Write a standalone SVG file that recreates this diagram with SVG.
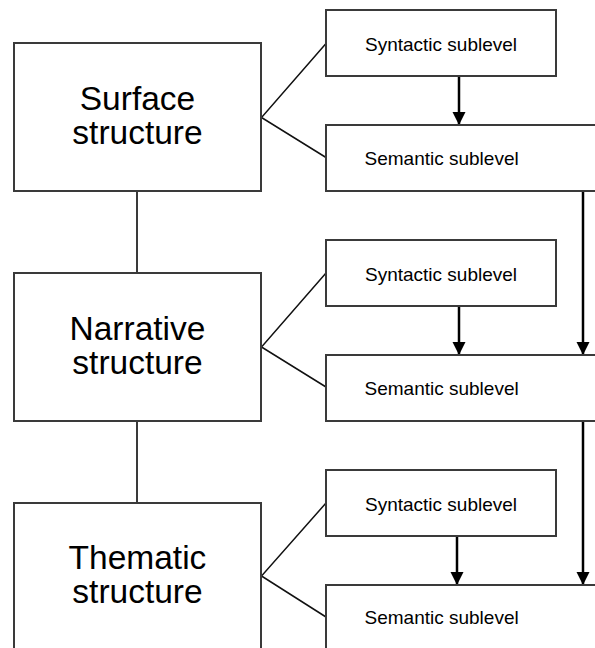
<svg xmlns="http://www.w3.org/2000/svg" width="595" height="648" viewBox="0 0 595 648">
<style>
.box{fill:#fff;stroke:#3a3a3a;stroke-width:2}
.big{font-family:"Liberation Sans",Arial,sans-serif;font-size:33.5px;fill:#000;text-anchor:middle}
.small{font-family:"Liberation Sans",Arial,sans-serif;font-size:19px;fill:#000}
.link{stroke:#111;stroke-width:1.5;fill:none}
.vlink{stroke:#3a3a3a;stroke-width:2;fill:none}
.arrow{stroke:#000;stroke-width:2.5;fill:none;marker-end:url(#ah)}
</style>
<defs>
<marker id="ah" markerUnits="userSpaceOnUse" markerWidth="13" markerHeight="14" refX="13" refY="6.5" orient="auto" viewBox="0 0 13 13">
<path d="M0,0 L13,6.5 L0,13 Z" fill="#000"/>
</marker>
</defs>
<rect width="595" height="648" fill="#fff"/>
<g id="connectors">
<line class="vlink" x1="137" y1="191" x2="137" y2="273"/>
<line class="vlink" x1="137" y1="421" x2="137" y2="503"/>
<polyline class="link" points="326,43.5 261.5,117.5 326,157.5"/>
<polyline class="link" points="326,273 261.5,347 326,387"/>
<polyline class="link" points="326,503 261.5,576 326,617"/>
<line class="arrow" x1="459" y1="76" x2="459" y2="125"/>
<line class="arrow" x1="459" y1="306" x2="459" y2="355"/>
<line class="arrow" x1="457" y1="536" x2="457" y2="585"/>
<line class="arrow" x1="583" y1="191" x2="583" y2="355"/>
<line class="arrow" x1="583" y1="421" x2="583" y2="585"/>
</g>
<g id="surface">
<rect class="box" x="14" y="43" width="247" height="148"/>
<text class="big" x="137.5" y="110">Surface</text>
<text class="big" x="137.5" y="144">structure</text>
</g>
<g id="narrative">
<rect class="box" x="14" y="273" width="247" height="148"/>
<text class="big" x="137.5" y="339.5">Narrative</text>
<text class="big" x="137.5" y="374">structure</text>
</g>
<g id="thematic">
<rect class="box" x="14" y="503" width="247" height="160"/>
<text class="big" x="137.5" y="568.5">Thematic</text>
<text class="big" x="137.5" y="603">structure</text>
</g>
<g id="syntactic1">
<rect class="box" x="326" y="10" width="230" height="66"/>
<text class="small" x="365" y="51">Syntactic sublevel</text>
</g>
<g id="semantic1">
<rect class="box" x="326" y="125" width="280" height="66"/>
<text class="small" x="364.5" y="164.5">Semantic sublevel</text>
</g>
<g id="syntactic2">
<rect class="box" x="326" y="240" width="230" height="66"/>
<text class="small" x="365" y="281">Syntactic sublevel</text>
</g>
<g id="semantic2">
<rect class="box" x="326" y="355" width="280" height="66"/>
<text class="small" x="364.5" y="394.5">Semantic sublevel</text>
</g>
<g id="syntactic3">
<rect class="box" x="326" y="470" width="230" height="66"/>
<text class="small" x="365" y="511">Syntactic sublevel</text>
</g>
<g id="semantic3">
<rect class="box" x="326" y="585" width="280" height="80"/>
<text class="small" x="364.5" y="623.5">Semantic sublevel</text>
</g>
</svg>
